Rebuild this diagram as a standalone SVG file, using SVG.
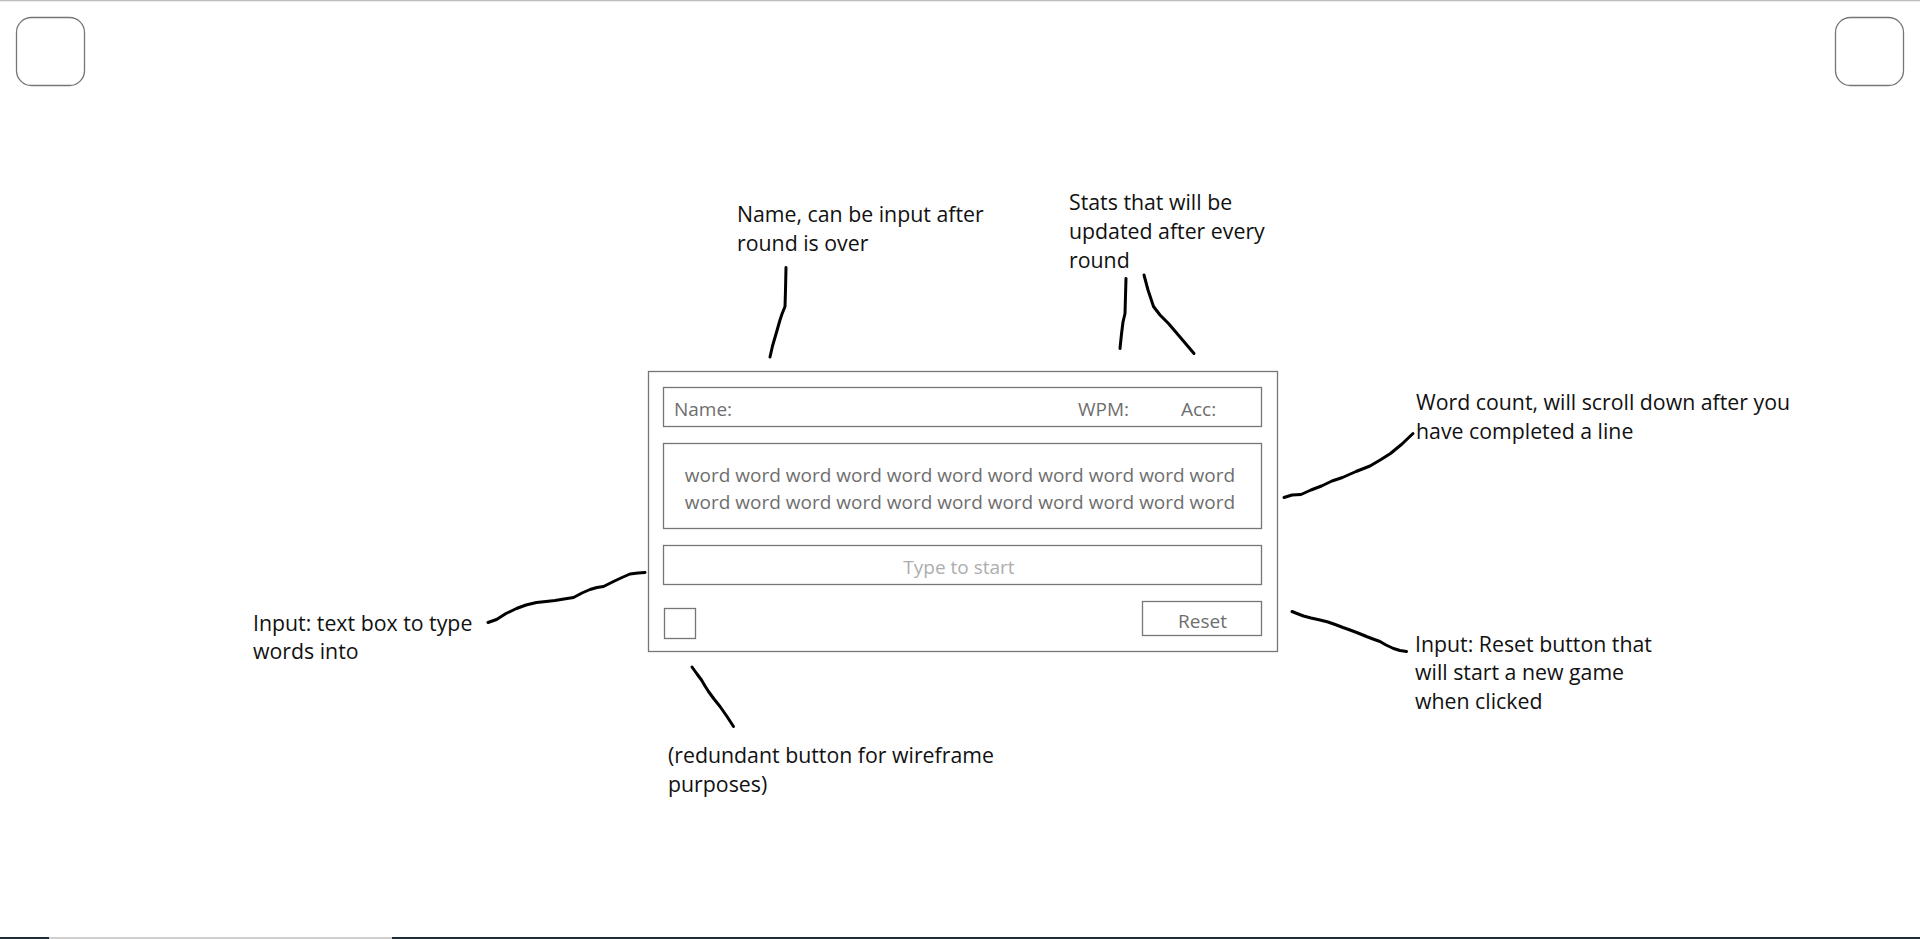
<svg xmlns="http://www.w3.org/2000/svg" width="1920" height="939" viewBox="0 0 1920 939">
<style>
.frame{fill:#fff;stroke:#767676;stroke-width:1.3}
.ui{font-family:"Open Sans","Noto Sans",sans-serif;font-size:19px;fill:#6e6e6e}
.ph{fill:#adadad}
.note{font-family:"Open Sans","Noto Sans",sans-serif;font-size:21.3px;fill:#111}
.ink{fill:none;stroke:#000;stroke-width:3;stroke-linecap:round;stroke-linejoin:round}
</style>
<rect width="1920" height="939" fill="#fff"/>
<line x1="0" y1="0.5" x2="1920" y2="0.5" stroke="#bdbdbd" stroke-width="1.5"/>
<g id="bottom-bar">
<rect x="0" y="937" width="1920" height="2" fill="#1f2d38"/>
<rect x="49" y="937" width="343" height="2" fill="#cfcfcf"/>
</g>
<g id="corner-left"><rect class="frame" x="16.5" y="17.5" width="68" height="68" rx="15"/></g>
<g id="corner-right"><rect class="frame" x="1835.5" y="17.5" width="68" height="68" rx="15"/></g>

<g id="window">
<rect class="frame" x="648.5" y="371.5" width="629" height="280"/>
</g>
<g id="stats-bar">
<rect class="frame" x="663.5" y="387.5" width="598" height="39"/>
<text class="ui" x="674" y="416">Name:</text>
<text class="ui" x="1078" y="416">WPM:</text>
<text class="ui" x="1181" y="416">Acc:</text>
</g>
<g id="word-box">
<rect class="frame" x="663.5" y="443.5" width="598" height="85"/>
<text class="ui" x="960" y="482" text-anchor="middle">word word word word word word word word word word word</text>
<text class="ui" x="960" y="508.5" text-anchor="middle">word word word word word word word word word word word</text>
</g>
<g id="input-box">
<rect class="frame" x="663.5" y="545.5" width="598" height="39"/>
<text class="ui ph" x="959" y="574" text-anchor="middle">Type to start</text>
</g>
<g id="checkbox"><rect class="frame" x="664.5" y="608.5" width="31" height="30"/></g>
<g id="reset-button">
<rect class="frame" x="1142.5" y="601.5" width="119" height="34"/>
<text class="ui" x="1202.5" y="627.5" text-anchor="middle">Reset</text>
</g>

<g id="note-name">
<text class="note" x="737" y="221.8">Name, can be input after</text>
<text class="note" x="737" y="251">round is over</text>
</g>
<g id="note-stats">
<text class="note" x="1069" y="209.5">Stats that will be</text>
<text class="note" x="1069" y="238.8">updated after every</text>
<text class="note" x="1069" y="268">round</text>
</g>
<g id="note-wordcount">
<text class="note" x="1416" y="409.5">Word count, will scroll down after you</text>
<text class="note" x="1416" y="438.8">have completed a line</text>
</g>
<g id="note-input">
<text class="note" x="253" y="630.5">Input: text box to type</text>
<text class="note" x="253" y="659.3">words into</text>
</g>
<g id="note-reset">
<text class="note" x="1415" y="651.8">Input: Reset button that</text>
<text class="note" x="1415" y="680.3">will start a new game</text>
<text class="note" x="1415" y="708.6">when clicked</text>
</g>
<g id="note-redundant">
<text class="note" x="668" y="763">(redundant button for wireframe</text>
<text class="note" x="668" y="792">purposes)</text>
</g>

<g id="connectors">
<polyline class="ink" points="786,267.5 785.5,290 785,306.5 782,314 780,320 776,334 772.5,346 770,357"/>
<polyline class="ink" points="1126,278.5 1125.5,296 1125,313.5 1123,322 1121.5,334 1120,348.5"/>
<polyline class="ink" points="1144,275 1148,290 1153.5,306.5 1160,315 1168.5,323.5 1180,337 1194,353.5"/>
<polyline class="ink" points="1284,497.5 1292,495 1301,494.5 1311,490 1321.5,486 1332,481 1342.5,477.5 1356,471.5 1370,466 1381,459.5 1390.5,453.5 1402,444 1413,433.5"/>
<polyline class="ink" points="488,622.5 496.5,619.5 506,613.5 516.5,608.5 526,605 536.5,602.5 546,601.5 555,600.5 564,599 573.5,597.5 582,593 590,589.5 597,587.5 603.5,586.5 613.5,581.5 622,577.5 630,574 638,573 645,572.5"/>
<polyline class="ink" points="1292,611.5 1297,613.5 1303.5,616 1311,618 1320,620 1328,622 1336.5,625 1343,627.5 1350,630 1358,633 1366.5,636.5 1373,639 1380,641.5 1386,645 1393.5,648.5 1400,650.5 1406.5,651.5"/>
<polyline class="ink" points="692,667 697,674 701.5,680 705,686 708.5,691.5 714,699 720,706.5 727,716.5 733.5,726.5"/>
</g>
</svg>
